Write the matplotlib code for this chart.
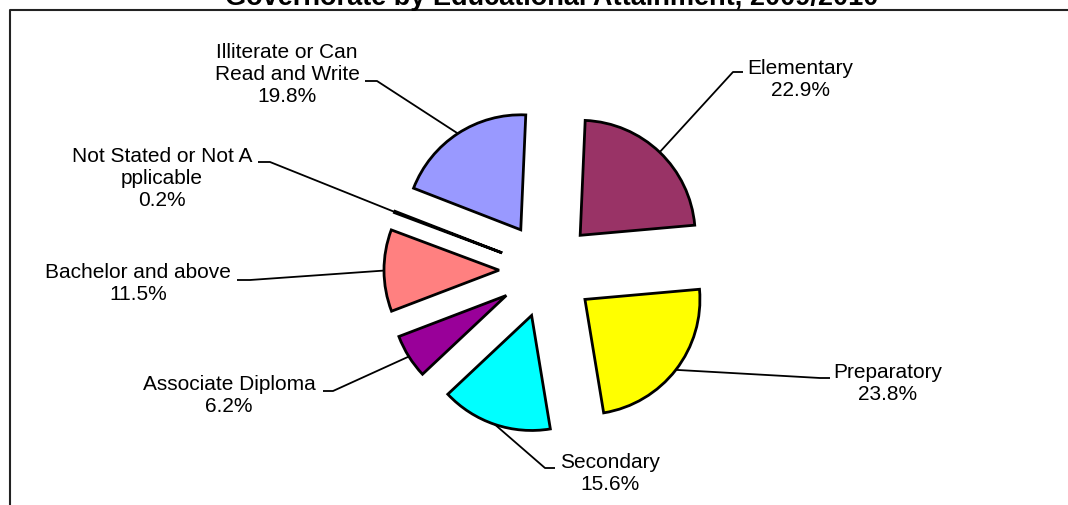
import matplotlib
matplotlib.use("Agg")
import matplotlib.pyplot as plt
import numpy as np

plt.rcParams['font.family'] = ['Liberation Sans', 'DejaVu Sans']

# data (clockwise from top)
labels = ['Elementary', 'Preparatory', 'Secondary', 'Associate Diploma',
          'Bachelor and above', 'Not Stated or Not A\npplicable',
          'Illiterate or Can\nRead and Write']
shares = [22.9, 23.8, 15.6, 6.2, 11.5, 0.2, 19.8]
colors = ['#993366', '#FFFF00', '#00FFFF', '#990099', '#FF8080', '#660066', '#9999FF']

title = 'Governorate by Educational Attainment, 2009/2010'

# layout in pixel space (y down): label block centre, knee of leader, end of leader
W, H = 1068, 505
label_pos = [(800, 80), (888, 384), (610, 474), (229, 396), (138, 284), (162, 178), (287, 75)]
knees = [(733, 72), (820, 378), (545, 468), (333, 391), (250, 280), (270, 162), (377, 81)]
ends = [(743, 72), (830, 378), (555, 468), (323, 391), (237, 280), (258, 162), (365, 81)]

fig = plt.figure(figsize=(W / 100, H / 100), dpi=100)
ax = fig.add_axes([0, 0, 1, 1])

center = (547, H - 270)
radius = 115
wedges, _ = ax.pie(shares, colors=colors, startangle=87.5, counterclock=False,
                   center=center, radius=radius, explode=[48] * len(shares),
                   wedgeprops=dict(edgecolor='black', linewidth=2), frame=False)

for w, lab, val, lp, kn, en in zip(wedges, labels, shares, label_pos, knees, ends):
    mid = np.deg2rad((w.theta1 + w.theta2) / 2)
    cx, cy = w.center
    ax_pt = (cx + w.r * np.cos(mid), cy + w.r * np.sin(mid))
    ax.plot([ax_pt[0], kn[0], en[0]], [ax_pt[1], H - kn[1], H - en[1]],
            color='black', lw=1.3, solid_capstyle='butt', zorder=1)
    ax.text(lp[0], H - lp[1], f'{lab}\n{val:.1f}%', ha='center', va='center',
            fontsize=15, linespacing=1.2)

# chart area border (clipped at top/right as in the source)
ax.plot([10, 10, W], [0, H - 10, H - 10], color='#222222', lw=1.5, clip_on=False)

# title sits mostly above the visible area, as in the source
ax.text(552, H - 5, title, ha='center', va='baseline', fontsize=19.5, fontweight='bold')

ax.set_xlim(0, W)
ax.set_ylim(0, H)
ax.set_aspect('equal')
ax.axis('off')

fig.savefig('out.png', dpi=100)
